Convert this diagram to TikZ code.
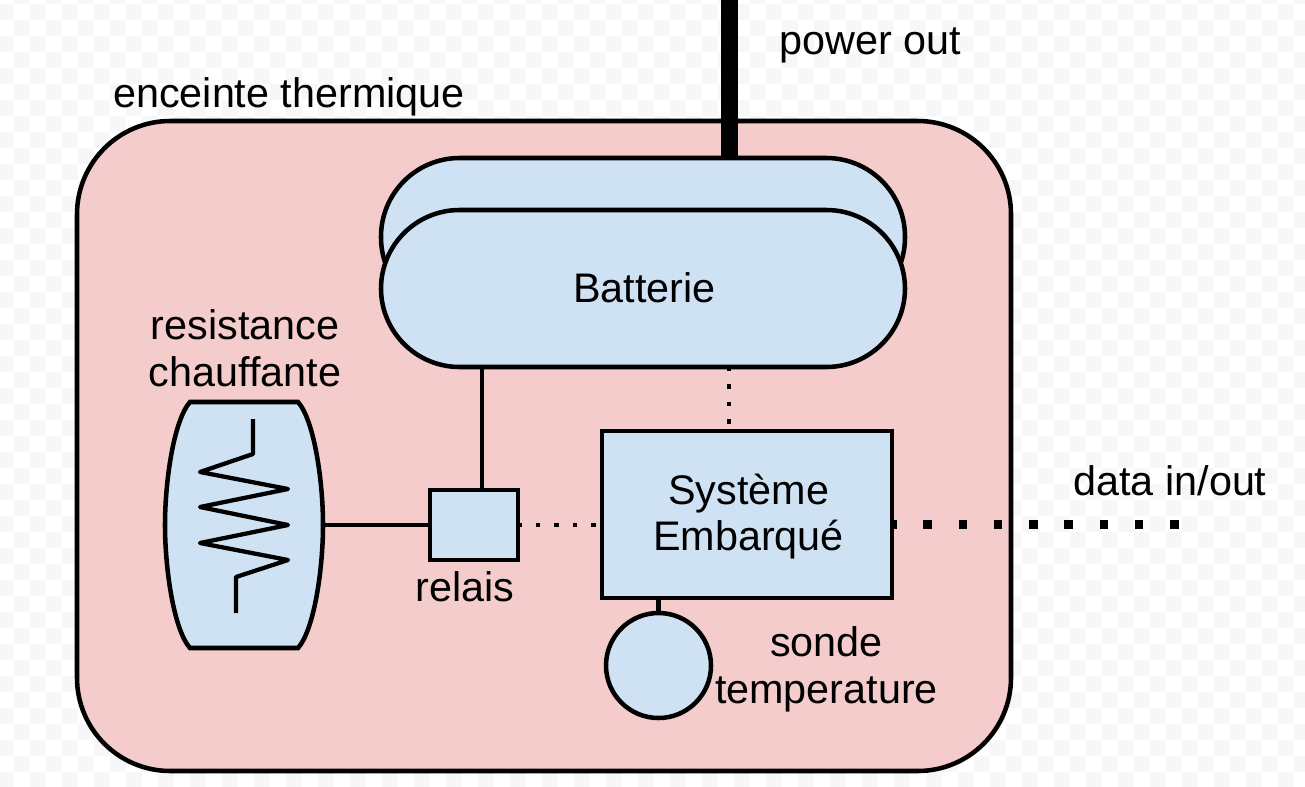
\documentclass[tikz,border=0pt]{standalone}
\usepackage{fontspec}
\setmainfont{Liberation Sans}
\definecolor{pinkfill}{HTML}{F4CCCC}
\definecolor{bluefill}{HTML}{CFE2F3}
\definecolor{checker}{HTML}{F7F7F7}
\def\u{.75pt}
\tikzset{
  x=.75pt, y=-.75pt,
  base font/.style={font=\fontsize{31}{35}\selectfont, align=center},
  label text/.style={base font, inner sep=0pt, outer sep=0pt},
  wire/.style={draw=black, line width=3.2pt},
  part/.style={draw=black, fill=bluefill, line width=3.4pt, inner sep=0pt, outer sep=0pt, base font},
  vdots/.style={draw=black, line width=3.2pt, dash pattern=on 3.2pt off 9.9pt},
  hdots/.style={draw=black, line width=3.2pt, dash pattern=on 3.2pt off 10.7pt, dash phase=.5pt},
  fatdots/.style={draw=black, line width=6.75pt, dash pattern=on 6.4pt off 20.05pt, dash phase=3pt},
}
\begin{document}
\begin{tikzpicture}
\useasboundingbox (0,0) rectangle (1305,786);
% faint checkerboard of the background
\begin{scope}
\clip (0,0) rectangle (1305,786);
\foreach \i in {0,...,82}{
  \foreach \j in {-1,...,49}{
    \pgfmathparse{int(mod(\i+\j+100,2))}
    \ifnum\pgfmathresult=0
      \fill[checker] (-2+16*\i,4+16*\j) rectangle ++(16,16);
    \fi
  }
}
\end{scope}
% enclosure
\node[draw=black, fill=pinkfill, line width=3.4pt, rounded corners=70pt, inner sep=0pt, outer sep=0pt,
  minimum width=934*\u, minimum height=650*\u] (enceinte) at (544,446) {};
% battery
\node[part, rounded corners=59pt, minimum width=524*\u, minimum height=158*\u] (back) at (643,237) {};
\node[part, rounded corners=59pt, minimum width=524*\u, minimum height=157*\u] (batterie) at (643,288.5) {\raisebox{.75pt}{\hspace{2pt}Batterie}};
% other parts
\node[part, minimum width=88*\u, minimum height=70*\u] (relais) at (474,525) {};
\node[part, minimum width=290*\u, minimum height=167*\u, text depth=3.2pt] (systeme) at (747,514.5) {\hspace{2.4pt}Système\\\hspace{2.4pt}Embarqué};
\node[part, circle, minimum size=105*\u] (sonde) at (658.5,665.5) {};
\node[part, minimum width=158*\u, minimum height=246*\u, draw=none, fill=none] (heater) at (244,525) {};
\fill[bluefill, draw=black, line width=3.4pt]
  (190,402) -- (298,402)
  .. controls (314,420) and (323,480) .. (323,525)
  .. controls (323,570) and (314,630) .. (298,648)
  -- (190,648)
  .. controls (174,630) and (165,570) .. (165,525)
  .. controls (165,480) and (174,420) .. (190,402) -- cycle;
\draw[wire, line join=round]
  (253,419) -- (253,454) -- (200,472) -- (288,489) -- (200,507) -- (288,525)
  -- (200,543) -- (288,560) -- (236,577) -- (236,613);
% connectors
\coordinate (powerend) at (729,0);
\coordinate (dataend) at (1180,524);
\draw[draw=black, line width=12.75pt] (powerend) -- (powerend |- back.north);
\draw[wire] (heater.east |- relais.west) -- (relais.west);
\draw[wire] ([xshift=6pt]relais.north) -- ([xshift=6pt]relais.north |- batterie.south);
\draw[vdots] (batterie.south -| powerend) -- (systeme.north -| powerend);
\draw[hdots] (relais.east) -- (relais.east -| systeme.west);
\draw[fatdots] (systeme.east |- dataend) -- (dataend);
\draw[wire] (systeme.south -| sonde.north) -- (sonde.north);
% labels
\node[label text, anchor=center] (lenceinte) at (289,97) {enceinte thermique};
\node[label text, anchor=center] (lpower) at (870.5,45) {power out};
\node[label text, anchor=center] (lresist) at (245,348) {resistance\\chauffante};
\node[label text, anchor=center] (lrelais) at (465,587) {relais};
\node[label text, anchor=center] (lsonde) at (826.5,669) {sonde\\temperature};
\node[label text, anchor=center] (ldata) at (1170,481) {data in/out};
\end{tikzpicture}
\end{document}
